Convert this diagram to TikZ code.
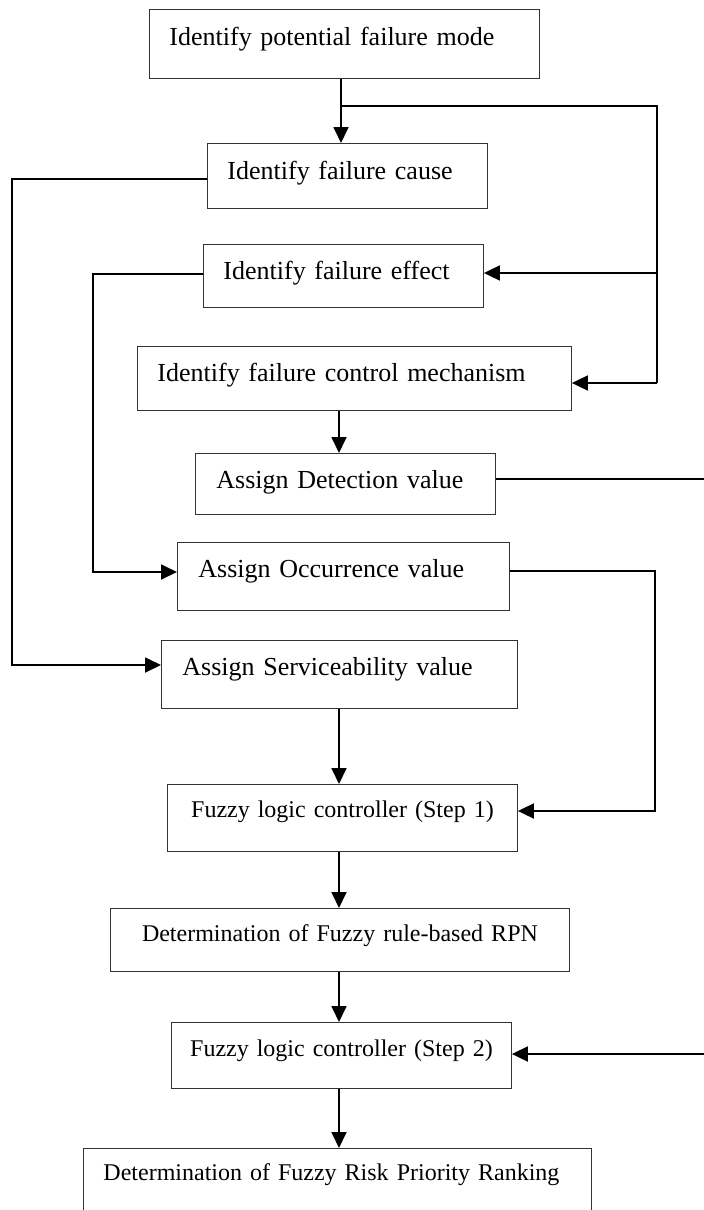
\documentclass[tikz,border=0pt]{standalone}
\usepackage{fontspec}
\setmainfont{Liberation Serif}
\usetikzlibrary{arrows.meta}
\setlength{\parindent}{0pt}

\newcommand{\bigtxt}{\fontsize{26}{30}\selectfont}
\newcommand{\smalltxt}{\fontsize{24}{28}\selectfont}

\tikzset{
  stepbox/.style={draw=black!80, line width=0.9pt, anchor=north west,
    inner ysep=0pt, align=left, font=\bigtxt},
  fuzzbox/.style={stepbox, inner xsep=0pt, align=center, font=\smalltxt},
  lpad/.style={inner xsep=#1pt},
  vsplit/.style 2 args={text height=#1pt, text depth=#2pt},
  link/.style={line width=1.8pt},
  flow/.style={link, -{Triangle[length=16pt,width=15pt]}},
}

\begin{document}
\begin{tikzpicture}[x=1pt,y=-1pt]
\path[use as bounding box, clip] (0,0) rectangle (704,1210);

\node[stepbox, lpad=20, text width=350pt, vsplit={36}{33}] (mode) at (149,9) {Identify potential failure mode};
\node[stepbox, lpad=20, text width=240pt, vsplit={36}{29}] (cause) at (207,143) {Identify failure cause};
\node[stepbox, lpad=20, text width=240pt, vsplit={35}{28}] (effect) at (203,244) {Identify failure effect};
\node[stepbox, lpad=20, text width=394pt, vsplit={35}{29}] (mcontrol) at (137,346) {Identify failure control mechanism};
\node[stepbox, lpad=21, text width=258pt, vsplit={35}{26}] (detect) at (195,453) {Assign Detection value};
\node[stepbox, lpad=21, text width=290pt, vsplit={35}{33}] (occur) at (177,542) {Assign Occurrence value};
\node[stepbox, lpad=21, text width=314pt, vsplit={35}{33}] (service) at (161,640) {Assign Serviceability value};
\node[fuzzbox, text width=350pt, vsplit={33}{34}] (fuzzyone) at (167,784) {Fuzzy logic controller (Step 1)};
\node[fuzzbox, text width=459pt, vsplit={33}{30}] (rpn) at (110,908) {Determination of Fuzzy rule-based RPN};
\node[fuzzbox, text width=340pt, vsplit={34}{32}] (fuzzytwo) at (171,1022) {Fuzzy logic controller (Step 2)};
\node[stepbox, lpad=20, text width=468pt, vsplit={32}{80}, font=\smalltxt] (ranking) at (83,1148) {Determination of Fuzzy Risk Priority Ranking};

% bends of the connectors
\coordinate (spine) at (339,0);
\coordinate (split) at (341,106);
\coordinate (rtop) at (657,106);
\coordinate (reff) at (657,273);
\coordinate (rctl) at (657,383);
\coordinate (lcause) at (12,179);
\coordinate (lserv) at (12,665);
\coordinate (leff) at (93,274);
\coordinate (locc) at (93,572);
\coordinate (rdet) at (730,479);
\coordinate (rfz2) at (730,1054);
\coordinate (rocc) at (655,571);
\coordinate (rfz1) at (655,811);

\draw[flow] (mode.south -| split) -- (cause.north -| split);
\draw[link] (split) -- (rtop) -- (rctl);
\draw[flow] (reff) -- (reff -| effect.east);
\draw[flow] (rctl) -- (rctl -| mcontrol.east);

\draw[flow] (lcause -| cause.west) -- (lcause) -- (lserv) -- (lserv -| service.west);
\draw[flow] (leff -| effect.west) -- (leff) -- (locc) -- (locc -| occur.west);
\draw[flow] (rdet -| detect.east) -- (rdet) -- (rfz2) -- (rfz2 -| fuzzytwo.east);
\draw[flow] (rocc -| occur.east) -- (rocc) -- (rfz1) -- (rfz1 -| fuzzyone.east);

\draw[flow] (mcontrol.south -| spine) -- (detect.north -| spine);
\draw[flow] (service.south -| spine) -- (fuzzyone.north -| spine);
\draw[flow] (fuzzyone.south -| spine) -- (rpn.north -| spine);
\draw[flow] (rpn.south -| spine) -- (fuzzytwo.north -| spine);
\draw[flow] (fuzzytwo.south -| spine) -- (ranking.north -| spine);

\end{tikzpicture}
\end{document}
